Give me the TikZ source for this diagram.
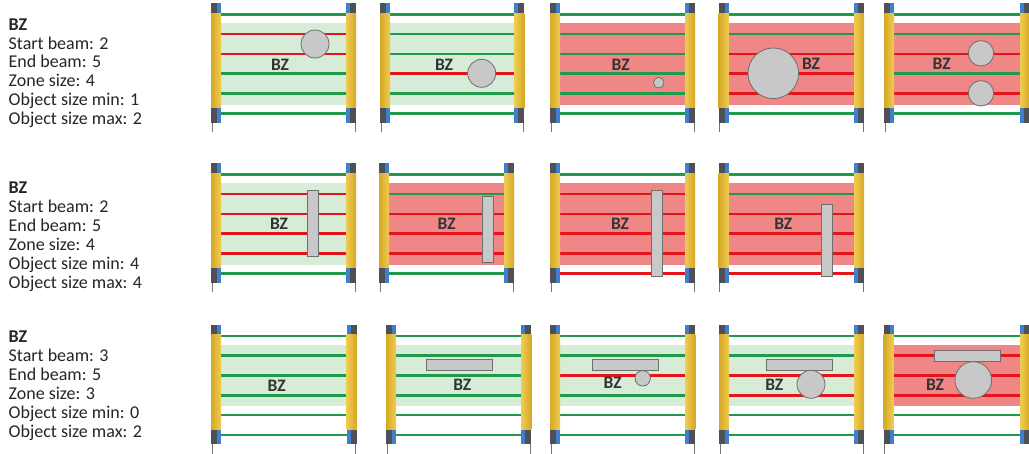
\documentclass[tikz,border=0pt]{standalone}
\usepackage{fontspec}
\setmainfont{Carlito}
\definecolor{bardark}{HTML}{4D5157}
\definecolor{barblue}{HTML}{3F7FCE}
\definecolor{yelD}{HTML}{D6A825}
\definecolor{yelL}{HTML}{F0CC52}
\definecolor{bgreen}{HTML}{1E9A4A}
\definecolor{bred}{HTML}{E3141B}
\definecolor{zgreen}{HTML}{D6ECD6}
\definecolor{zred}{HTML}{F08787}
\definecolor{objfill}{HTML}{C8C8C8}
\definecolor{objline}{HTML}{6E6E6E}
\definecolor{txt}{HTML}{262626}
\definecolor{bzcol}{HTML}{333333}
\tikzset{
  beam/.style={line width=2.6pt},
  leg/.style={draw=bardark!80, line width=1pt},
  obj/.style={fill=objfill, draw=objline, line width=0.8pt},
  bzlabel/.style={font=\fontsize{17.5}{20}\selectfont\bfseries, text=bzcol, inner sep=0pt},
  info/.style={font=\fontsize{18}{18.9}\selectfont, text=txt, align=left, anchor=north west, inner sep=0pt},
}
% #1 xl, #2 xr, #3 y0, #4 zone colour, #5 start beam, #6 end beam, #7 beam colours (top to bottom)
\newcommand{\bzpanel}[7]{%
  \begin{scope}[shift={(0,#3)}]
    \pgfmathsetmacro\zt{14.3+(6-#6)*19.8-11}
    \pgfmathsetmacro\zb{14.3+(6-#5)*19.8+11}
    \fill[#4] (#1+10,\zt) rectangle (#2,\zb);
    \foreach \c [count=\i from 0] in {#7} {
      \draw[beam, draw=\c] (#1+10,14.3+\i*19.8) -- (#2,14.3+\i*19.8);
    }
    % left bar
    \fill[bardark] (#1,3.3) rectangle (#1+6,13.3);
    \fill[barblue] (#1+6,3.3) rectangle (#1+10,13.3);
    \shade[left color=yelD, right color=yelL] (#1,13.3) rectangle (#1+10,108.3);
    \fill[bardark] (#1,108.3) rectangle (#1+6,122.7);
    \fill[barblue] (#1+6,108.3) rectangle (#1+10,122.7);
    \draw[leg] (#1+1,122.7) -- (#1+1,132);
    % right bar
    \fill[barblue] (#2,3.3) rectangle (#2+4,13.3);
    \fill[bardark] (#2+4,3.3) rectangle (#2+10,13.3);
    \shade[left color=yelL, right color=yelD] (#2,13.3) rectangle (#2+10,108.3);
    \fill[barblue] (#2,108.3) rectangle (#2+4,122.7);
    \fill[bardark] (#2+4,108.3) rectangle (#2+10,122.7);
    \draw[leg] (#2+9,122.7) -- (#2+9,132);
  \end{scope}}
\begin{document}
\begin{tikzpicture}[x=1pt,y=-1pt]
\useasboundingbox (0,0) rectangle (1029,453);
\fill[white] (0,0) rectangle (1029,453);

% ---------- info texts ----------
\node[info] (info1) at (8.5,18.3) {\textbf{BZ}\\Start beam: 2\\End beam: 5\\Zone size: 4\\Object size min: 1\\Object size max: 2};
\node[info] (info2) at (8.5,182) {\textbf{BZ}\\Start beam: 2\\End beam: 5\\Zone size: 4\\Object size min: 4\\Object size max: 4};
\node[info] (info3) at (8.5,331) {\textbf{BZ}\\Start beam: 3\\End beam: 5\\Zone size: 3\\Object size min: 0\\Object size max: 2};

% ---------- row 1 ----------
\bzpanel{211}{346}{0}{zgreen}{2}{5}{bgreen,bred,bred,bgreen,bgreen,bgreen}
\bzpanel{380}{514.3}{0}{zgreen}{2}{5}{bgreen,bgreen,bgreen,bred,bgreen,bgreen}
\bzpanel{550}{685}{0}{zred}{2}{5}{bgreen,bgreen,bgreen,bgreen,bgreen,bgreen}
\bzpanel{718.5}{854}{0}{zred}{2}{5}{bgreen,bgreen,bred,bred,bred,bgreen}
\bzpanel{884}{1020}{0}{zred}{2}{5}{bgreen,bgreen,bred,bgreen,bred,bgreen}

\node[bzlabel] (bz11) at (280,65) {BZ};
\node[bzlabel] (bz12) at (444,65) {BZ};
\node[bzlabel] (bz13) at (620.7,65) {BZ};
\node[bzlabel] (bz14) at (811,64.3) {BZ};
\node[bzlabel] (bz15) at (941.7,64.3) {BZ};

\draw[obj] (315,44) circle[radius=14];
\draw[obj] (481.7,73.3) circle[radius=14];
\draw[obj] (658.7,82.7) circle[radius=5.3];
\draw[obj] (773.3,73.3) circle[radius=25.3];
\draw[obj] (981,53.3) circle[radius=12.7];
\draw[obj] (981,93.3) circle[radius=12.7];

% ---------- row 2 ----------
\bzpanel{211}{346}{160}{zgreen}{2}{5}{bgreen,bred,bred,bred,bred,bgreen}
\bzpanel{379}{504}{160}{zred}{2}{5}{bgreen,bgreen,bred,bred,bred,bgreen}
\bzpanel{550}{685}{160}{zred}{2}{5}{bgreen,bred,bred,bred,bred,bred}
\bzpanel{718.5}{854}{160}{zred}{2}{5}{bgreen,bgreen,bred,bred,bred,bred}

\node[bzlabel] (bz21) at (279,224) {BZ};
\node[bzlabel] (bz22) at (446.7,224) {BZ};
\node[bzlabel] (bz23) at (620,224) {BZ};
\node[bzlabel] (bz24) at (783.3,224) {BZ};

\draw[obj] (307.7,190) rectangle (318.7,256);
\draw[obj] (482.7,196.7) rectangle (493.3,262.3);
\draw[obj] (651,190) rectangle (662.3,276);
\draw[obj] (821.7,204.3) rectangle (832.7,276);

% ---------- row 3 ----------
\bzpanel{211}{346.5}{321.5}{zgreen}{3}{5}{bgreen,bgreen,bgreen,bgreen,bgreen,bgreen}
\bzpanel{386}{521.3}{321.5}{zgreen}{3}{5}{bgreen,bgreen,bgreen,bgreen,bgreen,bgreen}
\bzpanel{550}{685.3}{321.5}{zgreen}{3}{5}{bgreen,bgreen,bred,bgreen,bgreen,bgreen}
\bzpanel{719}{854}{321.5}{zgreen}{3}{5}{bgreen,bgreen,bred,bred,bgreen,bgreen}
\bzpanel{883.5}{1020}{321.5}{zred}{3}{5}{bgreen,bred,bred,bred,bgreen,bgreen}

\node[bzlabel] (bz31) at (276.7,385.7) {BZ};
\node[bzlabel] (bz32) at (462.3,385) {BZ};
\node[bzlabel] (bz33) at (612.7,383.3) {BZ};
\node[bzlabel] (bz34) at (774.3,385) {BZ};
\node[bzlabel] (bz35) at (935,385) {BZ};

\draw[obj] (426.7,359.3) rectangle (492.7,370.3);
\draw[obj] (642.7,378.3) circle[radius=7.7];
\draw[obj] (592.3,359.3) rectangle (658.3,370.3);
\draw[obj] (811,384.3) circle[radius=14];
\draw[obj] (766.7,359.3) rectangle (832.7,370.3);
\draw[obj] (973.3,380) circle[radius=18.3];
\draw[obj] (934,350) rectangle (1000,361);
\end{tikzpicture}
\end{document}
